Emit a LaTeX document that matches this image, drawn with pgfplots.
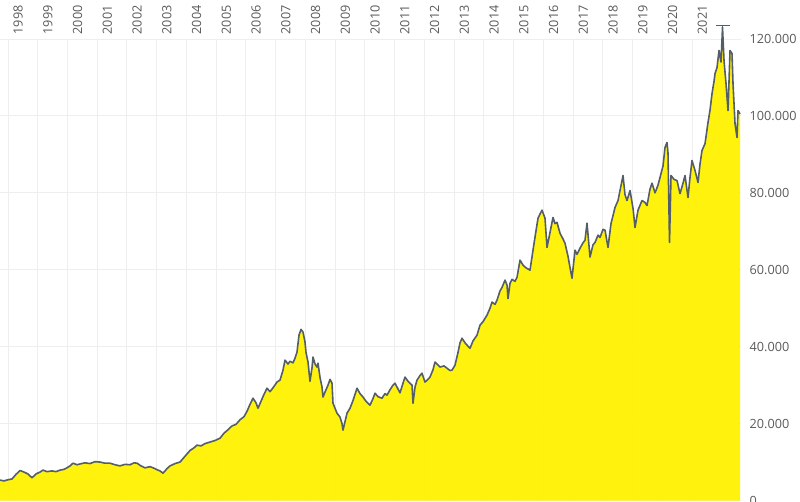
\documentclass[border=0pt]{standalone}
\usepackage{pgfplots}
\usepackage{pgfplotstable}
\pgfplotsset{compat=1.18}
\usepackage{fontspec}
\setmainfont{Open Sans}
\definecolor{fillyel}{RGB}{255,242,0}
\definecolor{linegray}{RGB}{84,94,104}
\definecolor{gridgray}{RGB}{238,238,238}
\definecolor{labgray}{RGB}{90,90,90}
% px = horizontal position on the chart (29.75 px per year, 1998 at px 8)
\pgfplotstableread{
px value
0 5300
4 5100
8 5400
12 5600
16 6800
20 7800
24 7400
28 6900
32 5900
36 6900
40 7400
43 7900
47 7500
52 7700
56 7500
60 7900
64 8100
67 8500
70 9000
73 9700
77 9300
80 9500
85 9800
90 9600
95 10100
100 10000
105 9700
110 9700
115 9300
120 9000
125 9400
130 9300
134 9800
137 9700
141 9000
145 8500
150 8800
154 8400
157 8000
160 7700
163 7100
167 8300
170 9000
175 9600
180 10000
185 11500
190 13000
194 13700
197 14400
201 14200
205 14800
210 15200
215 15600
220 16200
224 17500
228 18400
232 19400
236 19800
240 21000
244 21800
247 23200
250 25000
253 26600
256 25400
258 24000
261 25800
264 27600
267 29200
270 28300
273 29300
277 30800
280 31300
283 33900
285 36500
288 35500
290 36200
293 35800
295 37000
297 38600
299 43000
301 44500
303 43800
305 41200
306 38500
308 36000
310 31000
312 34500
313 37300
315 35500
317 34700
318 35700
320 32000
322 29500
323 26900
325 28200
328 30000
330 31500
332 30500
333 25300
335 24000
337 22700
340 21700
342 20000
343 18300
345 20500
347 22700
350 24000
353 26000
357 29200
360 27800
363 26900
366 25800
370 24800
373 26500
375 27900
378 27000
382 26600
385 27800
387 27400
390 28800
393 30000
395 30500
398 29000
400 28000
403 30500
405 32100
408 31000
412 30000
413 25300
415 29500
417 31300
420 32500
422 33100
425 30800
428 31500
430 32100
433 34000
435 36000
438 35200
440 34700
444 35000
447 34400
450 33800
452 33900
455 35200
458 38500
460 41000
462 42200
465 41000
467 40400
470 39600
473 41500
477 43000
480 45600
483 46500
487 48200
490 50000
492 51600
495 51000
497 52100
500 54500
502 55400
505 57300
507 56000
508 52500
510 56500
512 57500
515 57000
517 58000
520 62500
523 61200
526 60500
530 59900
533 65100
535 68500
538 73400
540 74500
542 75500
545 73400
547 65800
550 69700
553 73600
555 72000
557 72300
560 69500
563 68000
565 66900
568 63500
570 60600
572 57800
575 65100
577 64000
580 65600
583 67000
585 67700
587 72100
590 63300
593 66500
595 67100
598 69000
600 68400
603 70500
605 70300
608 65800
611 72000
615 76200
618 78000
620 80600
623 84500
625 79500
627 78000
630 80600
633 76000
635 71000
638 75500
642 78000
645 77500
647 76700
650 81000
652 82500
655 80000
658 82000
660 84000
663 87000
665 91800
667 93100
668 90300
669.5 67100
671 84500
674 83500
677 83200
680 79800
683 82500
685 84500
688 78800
690 84000
692 88400
695 85800
698 82700
700 87500
702 91000
705 92800
708 98300
710 101500
712 105800
714 109000
715 111000
717 112600
719 117000
721 114000
722.5 123000
724 114400
726 108400
728 101400
729 109000
730 117000
732 116200
733 108400
735 98000
737 94400
738 101400
740 100500
}\pricedata
\begin{document}
\begin{tikzpicture}
\begin{axis}[
  scale only axis,
  width=555.75pt, height=346.125pt,
  xmin=1997.731, xmax=2022.638,
  ymin=0, ymax=120000,
  clip=false,
  axis x line*=top, axis y line*=right,
  axis line style={draw=none},
  major tick length=0pt,
  x filter/.expression={1997.731+x/29.75},
  xtick={1998,1999,...,2021},
  xticklabels={},
  xmajorgrids, ymajorgrids,
  grid style={gridgray, line width=0.75pt},
  ytick={0,20000,40000,60000,80000,100000,120000},
  scaled y ticks=false,
  /pgf/number format/fixed,
  /pgf/number format/precision=0,
  /pgf/number format/1000 sep={.},
  /pgf/number format/assume math mode=true,
  tick label style={font=\fontsize{9.5}{11}\selectfont, text=labgray},
  yticklabel style={anchor=west, xshift=3pt},
  extra x ticks={1998.336,1999.336,2000.336,2001.336,2002.336,2003.336,2004.336,2005.336,2006.336,2007.336,2008.336,2009.336,2010.336,2011.336,2012.336,2013.336,2014.336,2015.336,2016.336,2017.336,2018.336,2019.336,2020.336,2021.336},
  extra x tick labels={1998,1999,2000,2001,2002,2003,2004,2005,2006,2007,2008,2009,2010,2011,2012,2013,2014,2015,2016,2017,2018,2019,2020,2021},
  extra x tick style={grid=none, xticklabel style={rotate=90, anchor=west}},
]
\coordinate (O) at (rel axis cs:0,0);
\addplot[draw=none, fill=fillyel, fill opacity=0.95] table[x=px, y=value] {\pricedata} \closedcycle;
\addplot[linegray, line width=1.2pt, line join=round] table[x=px, y=value] {\pricedata};
\addplot[linegray, line width=0.8pt] coordinates {(722.5,118500) (722.5,123500)};
\addplot[linegray, line width=0.8pt] coordinates {(715.5,123500) (729.5,123500)};
\end{axis}
\pgfresetboundingbox
\path[use as bounding box] (O) ++(0pt,-0.375pt) rectangle ++(600pt,375.75pt);
\end{tikzpicture}
\end{document}
